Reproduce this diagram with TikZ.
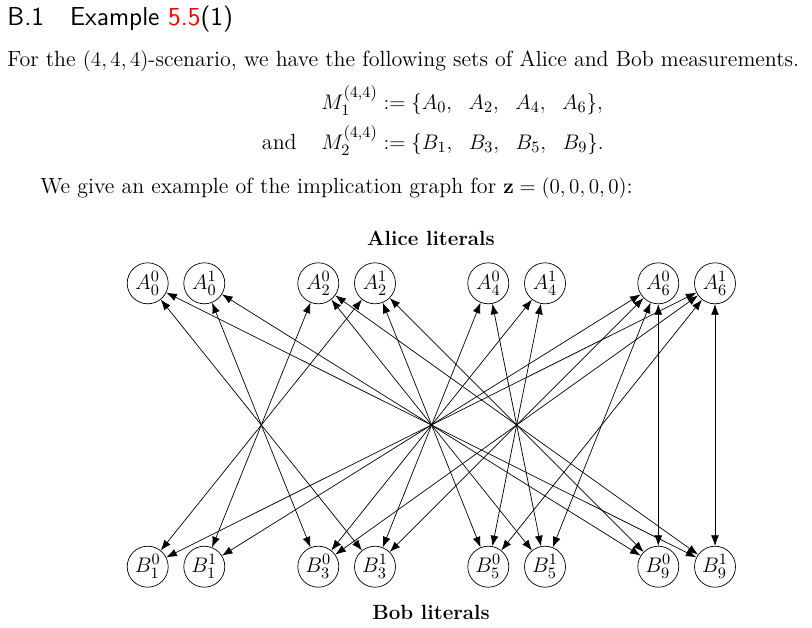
\documentclass[tikz,border=0pt]{standalone}
\usepackage{amsfonts, amssymb, amsmath}
\usepackage{tikz}
\usetikzlibrary{arrows.meta}

\tikzset{
    lit/.style={draw, circle, minimum size=0.82cm, inner sep=0pt},
    imp/.style={{Latex[length=6pt, width=4.5pt]}-{Latex[length=6pt, width=4.5pt]}},
    txt/.style={anchor=base west, inner sep=0pt},
    side/.style={anchor=base, font=\fontsize{11.7}{14}\selectfont\bfseries},
}

\begin{document}
\begin{tikzpicture}[x=0.02cm, y=-0.02cm, font=\fontsize{12.5}{15}\selectfont]
    \useasboundingbox (0, 0) rectangle (812, 627);

    % Heading and text
    \node[txt, font=\fontsize{14.8}{18}\selectfont\sffamily] (head) at (7, 25) {B.1\quad Example \textcolor{red}{5.5}(1)};
    \node[txt] (intro) at (7, 66) {For the $(4,4,4)$-scenario, we have the following sets of Alice and Bob measurements.};
    \node[txt] (setA) at (321, 109) {$M_1^{(4,4)} := \{A_0,\ \; A_2,\ \; A_4,\ \; A_6\},$};
    \node[txt] (setB) at (321, 149) {$M_2^{(4,4)} := \{B_1,\ \; B_3,\ \; B_5,\ \; B_9\}.$};
    \node[txt, anchor=base east] (andw) at (297, 149) {and};
    \node[txt] (give) at (40, 193) {We give an example of the implication graph for $\mathbf{z} = (0,0,0,0)$:};

    % Alice literals
    \node[side] (alice) at (431, 245) {Alice literals};
    \node[lit] (a00) at (147.7, 283.3) {$A_0^0$};
    \node[lit] (a01) at (204.3, 283.3) {$A_0^1$};
    \node[lit] (a20) at (318.3, 283.3) {$A_2^0$};
    \node[lit] (a21) at (375, 283.3) {$A_2^1$};
    \node[lit] (a40) at (488.3, 283.3) {$A_4^0$};
    \node[lit] (a41) at (545, 283.3) {$A_4^1$};
    \node[lit] (a60) at (658.3, 283.3) {$A_6^0$};
    \node[lit] (a61) at (715, 283.3) {$A_6^1$};

    % Bob literals
    \node[lit] (b10) at (147.7, 566.7) {$B_1^0$};
    \node[lit] (b11) at (204.3, 566.7) {$B_1^1$};
    \node[lit] (b30) at (318.3, 566.7) {$B_3^0$};
    \node[lit] (b31) at (375, 566.7) {$B_3^1$};
    \node[lit] (b50) at (488.3, 566.7) {$B_5^0$};
    \node[lit] (b51) at (545, 566.7) {$B_5^1$};
    \node[lit] (b90) at (658.3, 566.7) {$B_9^0$};
    \node[lit] (b91) at (715, 566.7) {$B_9^1$};
    \node[side] (bob) at (431, 619) {Bob literals};

    % Implications A_0
    \draw[imp] (a00) -- (b31);
    \draw[imp] (a01) -- (b30);
    \draw[imp] (a00) -- (b91);
    \draw[imp] (a01) -- (b90);

    % Implications A_2
    \draw[imp] (a20) -- (b11);
    \draw[imp] (a21) -- (b10);
    \draw[imp] (a20) -- (b51);
    \draw[imp] (a21) -- (b50);
    \draw[imp] (a20) -- (b91);
    \draw[imp] (a21) -- (b90);

    % Implications A_4
    \draw[imp] (a40) -- (b31);
    \draw[imp] (a41) -- (b30);
    \draw[imp] (a40) -- (b51);
    \draw[imp] (a41) -- (b50);

    % Implications A_6
    \draw[imp] (a60) -- (b11);
    \draw[imp] (a61) -- (b10);
    \draw[imp] (a60) -- (b31);
    \draw[imp] (a61) -- (b30);
    \draw[imp] (a60) -- (b51);
    \draw[imp] (a61) -- (b50);
    \draw[imp] (a60) -- (b90);
    \draw[imp] (a61) -- (b91);
\end{tikzpicture}
\end{document}
